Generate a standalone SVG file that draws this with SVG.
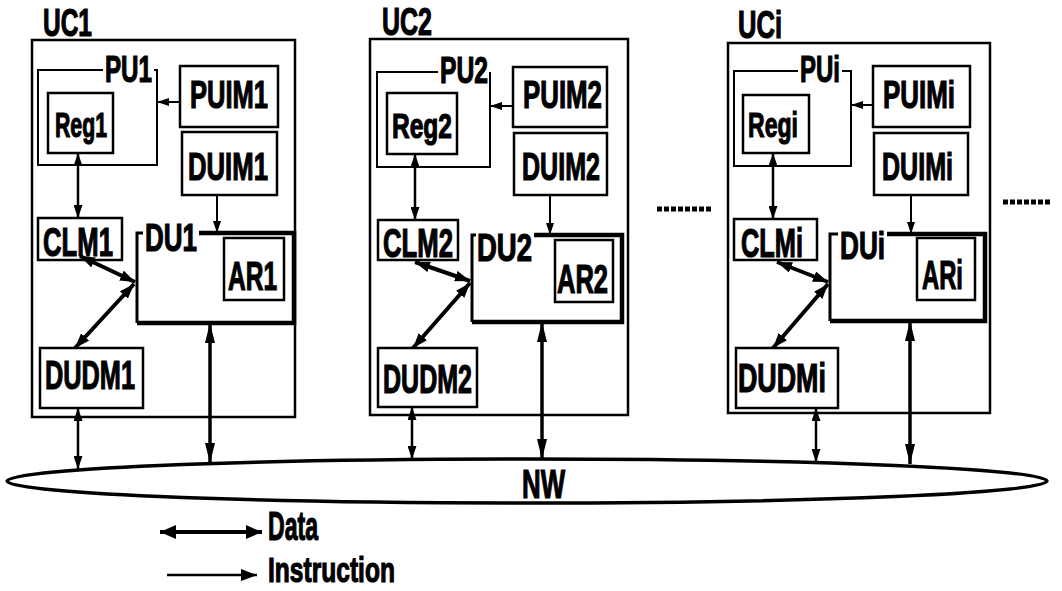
<svg xmlns="http://www.w3.org/2000/svg" width="1062" height="591" viewBox="0 0 1062 591">
<style>
.b{fill:none;stroke:#000;stroke-width:2.5}
.pb{fill:none;stroke:#000;stroke-width:2}
.dt{fill:none;stroke:#000;stroke-width:3}
.dk{fill:none;stroke:#000;stroke-width:4.5}
.t{font-family:"Liberation Sans",Arial,sans-serif;font-weight:bold;fill:#000;stroke:#000;stroke-width:1.2}
.c{fill:none;stroke:#000}
.ins{stroke-width:2}
.dat{stroke-width:4}
.thin{stroke-width:2.5}
.bus{stroke-width:3.5}
.dots{fill:none;stroke:#000;stroke-width:5;stroke-dasharray:5 2}
</style>
<defs>
<marker id="ih" markerUnits="userSpaceOnUse" viewBox="0 0 12 8" markerWidth="12" markerHeight="8" refX="12" refY="4" orient="auto-start-reverse"><path d="M0,0 L12,4 L0,8 z" fill="#000"/></marker>
<marker id="sh" markerUnits="userSpaceOnUse" viewBox="0 0 13 9" markerWidth="13" markerHeight="9" refX="13" refY="4.5" orient="auto-start-reverse"><path d="M0,0 L13,4.5 L0,9 z" fill="#000"/></marker>
<marker id="dh" markerUnits="userSpaceOnUse" viewBox="0 0 15 11" markerWidth="15" markerHeight="11" refX="15" refY="5.5" orient="auto-start-reverse"><path d="M0,0 L15,5.5 L0,11 z" fill="#000"/></marker>
<marker id="vh" markerUnits="userSpaceOnUse" viewBox="0 0 20 10" markerWidth="20" markerHeight="10" refX="20" refY="5" orient="auto-start-reverse"><path d="M0,0 L20,5 L0,10 z" fill="#000"/></marker>
<marker id="lh" markerUnits="userSpaceOnUse" viewBox="0 0 16 14" markerWidth="16" markerHeight="14" refX="16" refY="7" orient="auto-start-reverse"><path d="M0,0 L16,7 L0,14 z" fill="#000"/></marker>
<marker id="li" markerUnits="userSpaceOnUse" viewBox="0 0 16 12" markerWidth="16" markerHeight="12" refX="16" refY="6" orient="auto-start-reverse"><path d="M0,0 L16,6 L0,12 z" fill="#000"/></marker>
</defs>
<rect width="1062" height="591" fill="#fff"/>

<!-- UC1 -->
<g id="uc1"><rect class="b" x="32" y="40" width="263" height="377"/><text class="t" transform="translate(43,36) scale(0.628,1)" font-size="39">UC1</text></g>
<g id="pu1"><path class="pb" d="M103,70 H38 V165 H157 V70 H154"/><text class="t" transform="translate(105,82) scale(0.653,1)" font-size="37">PU1</text></g>
<g id="reg1"><rect class="b" x="48" y="93" width="65" height="60"/><text class="t" transform="translate(55,137) scale(0.591,1)" font-size="36">Reg1</text></g>
<g id="puim1"><rect class="b" x="180" y="66" width="98" height="61"/><text class="t" transform="translate(190,108) scale(0.654,1)" font-size="39">PUIM1</text></g>
<g id="duim1"><rect class="b" x="182" y="132" width="95" height="63"/><text class="t" transform="translate(188,180) scale(0.659,1)" font-size="39">DUIM1</text></g>
<g id="clm1"><rect class="b" x="38" y="218" width="84" height="42"/><text class="t" transform="translate(43,256) scale(0.643,1)" font-size="40">CLM1</text></g>
<g id="du1"><path class="dt" d="M143,233 H137 V323"/><path class="dk" d="M199,233 H294 V323 H137"/><text class="t" transform="translate(145,251) scale(0.684,1)" font-size="38">DU1</text></g>
<g id="ar1"><rect class="b" x="224" y="238" width="60" height="62"/><text class="t" transform="translate(228,290) scale(0.613,1)" font-size="40">AR1</text></g>
<g id="dudm1"><rect class="b" x="40" y="348" width="103" height="60"/><text class="t" transform="translate(45,389) scale(0.633,1)" font-size="40">DUDM1</text></g>

<!-- UC2 -->
<g id="uc2"><rect class="b" x="370" y="39" width="258" height="376"/><text class="t" transform="translate(382,35) scale(0.641,1)" font-size="39">UC2</text></g>
<g id="pu2"><path class="pb" d="M438,72 H377 V167 H490 V72"/><text class="t" transform="translate(440,83) scale(0.667,1)" font-size="37">PU2</text></g>
<g id="reg2"><rect class="b" x="387" y="93" width="70" height="61"/><text class="t" transform="translate(392,138) scale(0.682,1)" font-size="36">Reg2</text></g>
<g id="puim2"><rect class="b" x="513" y="67" width="94" height="60"/><text class="t" transform="translate(523,108) scale(0.663,1)" font-size="39">PUIM2</text></g>
<g id="duim2"><rect class="b" x="514" y="133" width="93" height="62"/><text class="t" transform="translate(522,180) scale(0.643,1)" font-size="39">DUIM2</text></g>
<g id="clm2"><rect class="b" x="378" y="220" width="80" height="40"/><text class="t" transform="translate(383,257) scale(0.643,1)" font-size="40">CLM2</text></g>
<g id="du2"><path class="dt" d="M476,235 H472 V322"/><path class="dk" d="M534,235 H622 V322 H472"/><text class="t" transform="translate(477,261) scale(0.724,1)" font-size="38">DU2</text></g>
<g id="ar2"><rect class="b" x="555" y="240" width="58" height="62"/><text class="t" transform="translate(557,293) scale(0.638,1)" font-size="40">AR2</text></g>
<g id="dudm2"><rect class="b" x="378" y="348" width="99" height="59"/><text class="t" transform="translate(383,393) scale(0.626,1)" font-size="40">DUDM2</text></g>

<!-- UCi -->
<g id="uci"><rect class="b" x="728" y="43" width="262" height="370"/><text class="t" transform="translate(738,38) scale(0.655,1)" font-size="39">UCi</text></g>
<g id="pui"><path class="pb" d="M798,71 H734 V166 H851 V71 H842"/><text class="t" transform="translate(800,82) scale(0.648,1)" font-size="37">PUi</text></g>
<g id="regi"><rect class="b" x="743" y="95" width="66" height="58"/><text class="t" transform="translate(748,137) scale(0.641,1)" font-size="36">Regi</text></g>
<g id="puimi"><rect class="b" x="873" y="66" width="97" height="61"/><text class="t" transform="translate(883,108) scale(0.665,1)" font-size="39">PUIMi</text></g>
<g id="duimi"><rect class="b" x="874" y="133" width="94" height="62"/><text class="t" transform="translate(882,180) scale(0.643,1)" font-size="39">DUIMi</text></g>
<g id="clmi"><rect class="b" x="734" y="219" width="83" height="41"/><text class="t" transform="translate(741,257) scale(0.634,1)" font-size="40">CLMi</text></g>
<g id="dui"><path class="dt" d="M838,234 H830 V321"/><path class="dk" d="M887,234 H985 V321 H830"/><text class="t" transform="translate(840,259) scale(0.688,1)" font-size="38">DUi</text></g>
<g id="ari"><rect class="b" x="917" y="238" width="58" height="62"/><text class="t" transform="translate(922,289) scale(0.595,1)" font-size="40">ARi</text></g>
<g id="dudmi"><rect class="b" x="736" y="348" width="102" height="60"/><text class="t" transform="translate(738,392) scale(0.671,1)" font-size="40">DUDMi</text></g>

<!-- Network -->
<g id="nw"><ellipse cx="527" cy="481" rx="520" ry="22" fill="none" stroke="#000" stroke-width="3.5"/><text class="t" transform="translate(522,498) scale(0.63,1)" font-size="41">NW</text></g>

<!-- ellipsis dots -->
<g id="dots"><line class="dots" x1="657" y1="209" x2="713" y2="209"/><line class="dots" x1="1003" y1="202" x2="1052" y2="202"/></g>

<!-- connectors -->
<g id="connectors">
<line class="c ins" x1="180" y1="102" x2="157" y2="102" marker-end="url(#ih)"/>
<line class="c ins" x1="217" y1="195" x2="217" y2="233" marker-end="url(#ih)"/>
<line class="c thin" x1="78" y1="153" x2="78" y2="218" marker-start="url(#sh)" marker-end="url(#sh)"/>
<line class="c dat" x1="80" y1="256" x2="135" y2="282" marker-start="url(#dh)" marker-end="url(#dh)"/>
<line class="c dat" x1="134" y1="284" x2="75" y2="348" marker-start="url(#dh)" marker-end="url(#dh)"/>
<line class="c thin" x1="78" y1="408" x2="78" y2="469" marker-start="url(#sh)" marker-end="url(#sh)"/>
<line class="c bus" x1="210" y1="323" x2="210" y2="463" marker-start="url(#vh)" marker-end="url(#vh)"/>

<line class="c ins" x1="513" y1="106" x2="490" y2="106" marker-end="url(#ih)"/>
<line class="c ins" x1="550" y1="195" x2="550" y2="235" marker-end="url(#ih)"/>
<line class="c thin" x1="415" y1="154" x2="415" y2="220" marker-start="url(#sh)" marker-end="url(#sh)"/>
<line class="c dat" x1="415" y1="262" x2="470" y2="281" marker-start="url(#dh)" marker-end="url(#dh)"/>
<line class="c dat" x1="470" y1="283" x2="413" y2="348" marker-start="url(#dh)" marker-end="url(#dh)"/>
<line class="c thin" x1="412" y1="407" x2="412" y2="459" marker-start="url(#sh)" marker-end="url(#sh)"/>
<line class="c bus" x1="542" y1="322" x2="542" y2="459" marker-start="url(#vh)" marker-end="url(#vh)"/>

<line class="c ins" x1="873" y1="105" x2="851" y2="105" marker-end="url(#ih)"/>
<line class="c ins" x1="911" y1="195" x2="911" y2="234" marker-end="url(#ih)"/>
<line class="c thin" x1="773" y1="153" x2="773" y2="219" marker-start="url(#sh)" marker-end="url(#sh)"/>
<line class="c dat" x1="777" y1="262" x2="828" y2="282" marker-start="url(#dh)" marker-end="url(#dh)"/>
<line class="c dat" x1="828" y1="284" x2="773" y2="348" marker-start="url(#dh)" marker-end="url(#dh)"/>
<line class="c thin" x1="816" y1="408" x2="816" y2="462" marker-start="url(#sh)" marker-end="url(#sh)"/>
<line class="c bus" x1="910" y1="321" x2="910" y2="464" marker-start="url(#vh)" marker-end="url(#vh)"/>
</g>

<!-- legend -->
<g id="legend">
<line class="c dat" x1="160" y1="532" x2="262" y2="532" marker-start="url(#lh)" marker-end="url(#lh)"/>
<text class="t" transform="translate(268,540) scale(0.577,1)" font-size="40">Data</text>
<line class="c thin" x1="167" y1="575" x2="257" y2="575" marker-end="url(#li)"/>
<text class="t" transform="translate(268,582) scale(0.683,1)" font-size="36">Instruction</text>
</g>
</svg>
